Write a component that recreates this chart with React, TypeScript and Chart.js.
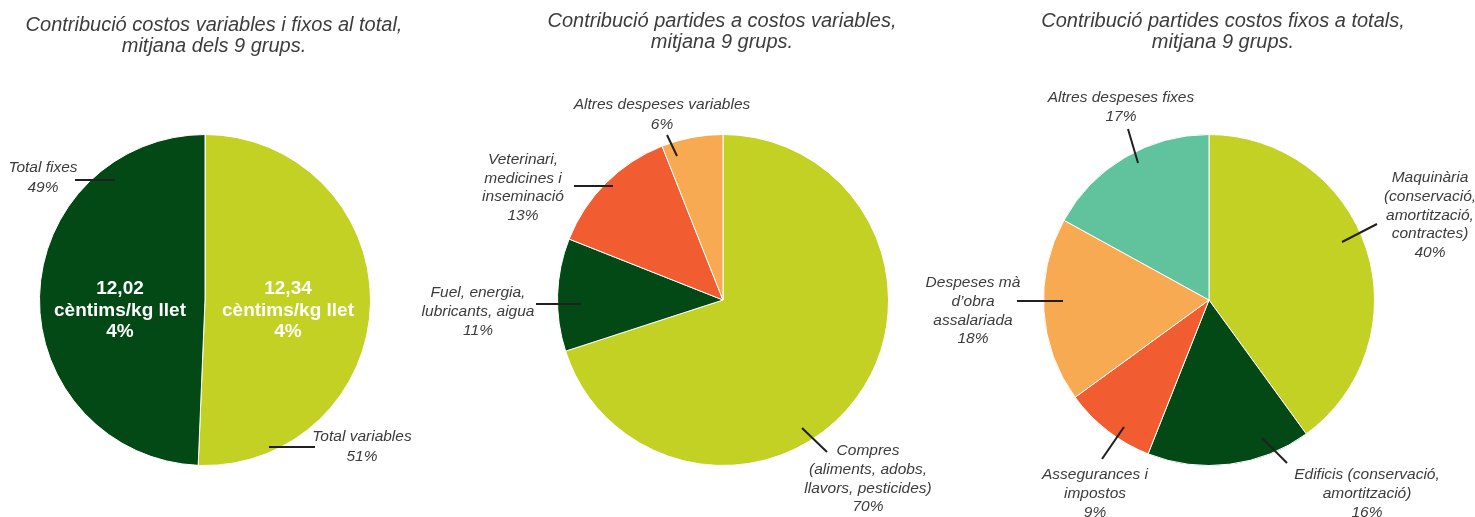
import React, { useEffect, useRef } from "react";
import { Chart, registerables } from "chart.js";

Chart.register(...registerables);

const W = 1475;
const H = 517;

// ---------- DATA ----------
const totalTitle = ["Contribució costos variables i fixos al total,", "mitjana dels 9 grups."];
const totalLabels = [["Total variables"], ["Total fixes"]];
const totalCents = [12.34, 12.02]; // cèntims/kg llet
const totalInnerUnit = "cèntims/kg llet";
const totalInnerPct = ["4%", "4%"];

const variableTitle = ["Contribució partides a costos variables,", "mitjana 9 grups."];
const variableLabels = [
  ["Compres", "(aliments, adobs,", "llavors, pesticides)"],
  ["Fuel, energia,", "lubricants, aigua"],
  ["Veterinari,", "medicines i", "inseminació"],
  ["Altres despeses variables"],
];
const variableValues = [70, 11, 13, 6];

const fixedTitle = ["Contribució partides costos fixos a totals,", "mitjana 9 grups."];
const fixedLabels = [
  ["Maquinària", "(conservació,", "amortització,", "contractes)"],
  ["Edificis (conservació,", "amortització)"],
  ["Assegurances i", "impostos"],
  ["Despeses mà", "d\u2019obra", "assalariada"],
  ["Altres despeses fixes"],
];
const fixedValues = [40, 16, 9, 18, 17];

// ---------- STYLE / LAYOUT ----------
const C_LIGHT_GREEN = "#c2d124";
const C_DARK_GREEN = "#034915";
const C_RED = "#f15d30";
const C_ORANGE = "#f8aa52";
const C_TEAL = "#60c39d";

const FONT = "'Liberation Sans', Arial, Helvetica, sans-serif";

type LabelLayout = { tx: number; ty: number; lh: number; line: [number, number, number, number] };

const totalLayout: LabelLayout[] = [
  { tx: 157, ty: 137, lh: 20, line: [64, 147, 110, 147] },
  { tx: -162, ty: -132, lh: 20, line: [-130, -120, -90, -120] },
];
const totalInnerLayout = [
  { tx: 83, ty: -11, lh: 21.5 },
  { tx: -85, ty: -11, lh: 21.5 },
];
const variableLayout: LabelLayout[] = [
  { tx: 145, ty: 151, lh: 18.7, line: [79, 128, 104, 152] },
  { tx: -245, ty: -7, lh: 18.6, line: [-187, 4, -142, 4] },
  { tx: -200, ty: -140, lh: 18.4, line: [-149, -114, -110, -114] },
  { tx: -61, ty: -195, lh: 20, line: [-56, -165, -46, -144] },
];
const fixedLayout: LabelLayout[] = [
  { tx: 221, ty: -122, lh: 18.7, line: [168, -76, 133, -58] },
  { tx: 158, ty: 175, lh: 18.6, line: [53, 138, 78, 163] },
  { tx: -114, ty: 175, lh: 18.6, line: [-107, 159, -85, 127] },
  { tx: -236, ty: -17, lh: 18.7, line: [-192, 1, -146, 1] },
  { tx: -88, ty: -202, lh: 18.5, line: [-81, -171, -71, -137] },
];

const annotPlugin = {
  id: "annot",
  afterDraw(chart: any, _args: any, opts: any) {
    const ctx: CanvasRenderingContext2D = chart.ctx;
    const arc = chart.getDatasetMeta(0).data[0] as any;
    const cx = arc.x;
    const cy = arc.y;
    const values: number[] = chart.data.datasets[0].data;
    const total = values.reduce((a, b) => a + b, 0);
    ctx.save();
    ctx.textAlign = "center";
    ctx.textBaseline = "middle";

    // title
    ctx.fillStyle = "#3d3d3d";
    ctx.font = `italic 20px ${FONT}`;
    (opts.title as string[]).forEach((t, i) => {
      ctx.fillText(t, cx + opts.titleDx, cy + opts.titleDy + i * 21.5);
    });

    // labels and leader lines
    const labels: string[][] = opts.labels;
    const layout: LabelLayout[] = opts.layout;
    labels.forEach((lines, i) => {
      const L = layout[i];
      ctx.strokeStyle = "#231f20";
      ctx.lineWidth = 2;
      ctx.beginPath();
      ctx.moveTo(cx + L.line[0], cy + L.line[1]);
      ctx.lineTo(cx + L.line[2], cy + L.line[3]);
      ctx.stroke();
      ctx.fillStyle = "#3c3c3c";
      ctx.font = `italic 15.5px ${FONT}`;
      const pct = Math.round((values[i] / total) * 100);
      const all = [...lines, `${pct}%`];
      all.forEach((t, j) => {
        ctx.fillText(t, cx + L.tx, cy + L.ty + j * L.lh);
      });
    });

    // inner labels
    if (opts.inner) {
      ctx.fillStyle = "#ffffff";
      ctx.font = `bold 19px ${FONT}`;
      values.forEach((v, i) => {
        const L = opts.innerLayout[i];
        const lines = [v.toFixed(2).replace(".", ","), opts.innerUnit, opts.innerPct[i]];
        lines.forEach((t: string, j: number) => ctx.fillText(t, cx + L.tx, cy + L.ty + j * L.lh));
      });
    }
    ctx.restore();
  },
};

function makeConfig(
  values: number[],
  colors: string[],
  center: [number, number],
  radius: number,
  annot: any
): any {
  const [cx, cy] = center;
  return {
    type: "pie",
    data: {
      labels: annot.labels.map((l: string[]) => l.join(" ")),
      datasets: [
        {
          data: values,
          backgroundColor: colors,
          borderColor: "#ffffff",
          borderWidth: 1,
        },
      ],
    },
    options: {
      responsive: false,
      maintainAspectRatio: false,
      animation: false,
      layout: {
        padding: { left: cx - radius, right: W - cx - radius, top: cy - radius, bottom: H - cy - radius },
      },
      plugins: {
        legend: { display: false },
        tooltip: { enabled: false },
        title: { display: false },
        annot,
      },
    },
    plugins: [annotPlugin],
  };
}

export default function App() {
  const r1 = useRef<HTMLCanvasElement>(null);
  const r2 = useRef<HTMLCanvasElement>(null);
  const r3 = useRef<HTMLCanvasElement>(null);

  useEffect(() => {
    const charts: Chart[] = [];
    charts.push(
      new Chart(
        r1.current!,
        makeConfig(totalCents, [C_LIGHT_GREEN, C_DARK_GREEN], [205, 300], 166, {
          title: totalTitle,
          titleDx: 9,
          titleDy: -275,
          labels: totalLabels,
          layout: totalLayout,
          inner: true,
          innerUnit: totalInnerUnit,
          innerPct: totalInnerPct,
          innerLayout: totalInnerLayout,
        })
      )
    );
    charts.push(
      new Chart(
        r2.current!,
        makeConfig(variableValues, [C_LIGHT_GREEN, C_DARK_GREEN, C_RED, C_ORANGE], [723, 300], 166, {
          title: variableTitle,
          titleDx: -1,
          titleDy: -279,
          labels: variableLabels,
          layout: variableLayout,
        })
      )
    );
    charts.push(
      new Chart(
        r3.current!,
        makeConfig(fixedValues, [C_LIGHT_GREEN, C_DARK_GREEN, C_RED, C_ORANGE, C_TEAL], [1209, 300], 166, {
          title: fixedTitle,
          titleDx: 14,
          titleDy: -279,
          labels: fixedLabels,
          layout: fixedLayout,
        })
      )
    );
    return () => charts.forEach((c) => c.destroy());
  }, []);

  const canvasStyle: React.CSSProperties = {
    position: "absolute",
    left: 0,
    top: 0,
    width: W,
    height: H,
  };

  return (
    <div style={{ position: "absolute", left: 0, top: 0, width: W, height: H, background: "#ffffff" }}>
      <canvas ref={r1} width={W} height={H} style={canvasStyle} />
      <canvas ref={r2} width={W} height={H} style={canvasStyle} />
      <canvas ref={r3} width={W} height={H} style={canvasStyle} />
    </div>
  );
}
